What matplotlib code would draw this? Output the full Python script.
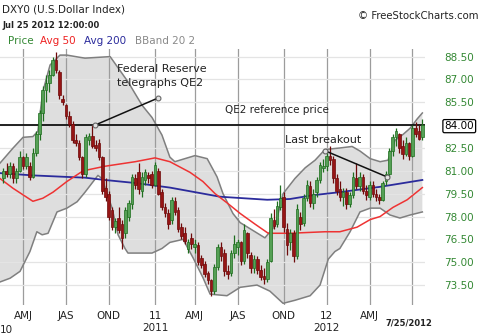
import numpy as np
import matplotlib.pyplot as plt

# weekly bars of DXY0, week 0 = Feb 15 2010 ... week 127 = Jul 23 2012
opens = [80.5, 81.0, 80.8, 81.3, 80.5, 81.0, 81.9, 81.3, 81.3, 80.6,
         82.2, 83.4, 84.8, 86.3, 86.8, 87.3, 88.3, 87.5, 85.7, 85.3,
         84.6, 84.1, 83.0, 82.8, 81.9, 80.8, 83.0, 83.3, 82.7, 82.8,
         81.9, 79.9, 79.5, 78.4, 77.3, 77.9, 77.5, 76.9, 78.0, 78.8,
         80.5, 80.9, 79.7, 80.4, 80.7, 80.8, 80.1, 81.0, 79.6, 78.6,
         78.2, 77.8, 79.0, 78.4, 77.3, 76.9, 75.9, 76.6, 76.0, 76.1,
         75.3, 74.9, 74.3, 73.8, 73.1, 74.7, 76.0, 75.6, 74.4, 74.3,
         75.6, 76.0, 76.3, 75.1, 76.9, 75.5, 74.6, 75.2, 74.5, 74.1,
         73.9, 75.1, 77.8, 77.5, 78.6, 79.3, 77.2, 76.3, 76.9, 75.4,
         78.0, 77.6, 79.2, 80.0, 78.9, 79.6, 80.4, 81.2, 81.3, 82.0,
         81.8, 80.5, 79.8, 79.3, 79.6, 78.8, 79.4, 80.5, 80.0, 80.6,
         79.7, 79.3, 80.1, 79.5, 79.3, 79.1, 80.3, 80.8, 82.3, 83.2,
         83.4, 82.6, 82.1, 82.8, 82.0, 83.8, 83.6, 83.2]
highs = [81.2, 81.5, 81.6, 81.5, 81.2, 82.3, 82.0, 82.2, 81.6, 82.5,
         83.6, 85.0, 86.6, 87.3, 87.6, 88.5, 88.8, 87.6, 86.0, 85.4,
         84.9, 84.3, 83.4, 83.0, 82.0, 83.4, 83.5, 84.0, 83.0, 83.1,
         82.0, 80.5, 79.7, 78.6, 77.9, 78.6, 77.8, 78.6, 79.1, 80.8,
         80.8, 81.5, 80.9, 81.1, 80.9, 81.0, 81.6, 81.2, 79.8, 78.9,
         78.5, 79.3, 79.3, 78.6, 77.6, 77.3, 76.5, 76.9, 76.5, 76.3,
         75.5, 75.1, 74.4, 73.9, 74.9, 76.2, 76.3, 75.9, 74.8, 75.8,
         76.8, 76.5, 76.4, 77.5, 77.0, 75.7, 75.5, 75.4, 74.8, 74.6,
         75.2, 78.2, 78.5, 79.0, 80.1, 79.6, 77.6, 77.2, 77.1, 78.8,
         78.3, 79.5, 80.4, 80.3, 79.8, 80.6, 81.6, 81.8, 82.3, 82.6,
         82.0, 80.8, 80.3, 79.9, 79.9, 79.6, 80.9, 81.5, 80.9, 80.8,
         80.1, 80.3, 80.3, 79.8, 79.5, 80.3, 81.0, 82.5, 83.4, 83.8,
         83.5, 83.0, 83.2, 82.9, 84.0, 84.2, 84.0, 84.4]
lows = [80.2, 80.6, 80.5, 80.2, 80.2, 80.9, 81.1, 81.1, 80.4, 80.5,
        82.0, 83.0, 84.3, 85.5, 86.2, 87.2, 87.4, 85.7, 85.3, 84.4,
        83.9, 82.8, 82.6, 81.7, 80.5, 80.6, 82.7, 82.5, 82.3, 81.7,
        79.5, 79.0, 77.8, 77.1, 76.9, 76.9, 75.9, 76.6, 77.7, 78.5,
        79.8, 79.5, 79.3, 80.1, 80.2, 79.9, 80.0, 79.4, 78.4, 78.0,
        77.2, 77.5, 78.1, 77.0, 76.5, 76.2, 75.6, 75.9, 75.6, 74.8,
        74.6, 74.0, 73.6, 72.8, 72.9, 74.5, 75.1, 74.1, 73.9, 74.1,
        75.3, 75.5, 74.8, 74.9, 75.3, 74.3, 74.3, 74.2, 73.8, 73.6,
        73.7, 75.0, 77.2, 77.3, 78.4, 77.0, 75.5, 75.8, 75.0, 75.2,
        77.1, 77.4, 79.0, 78.6, 78.5, 79.3, 80.2, 80.9, 81.0, 81.4,
        80.2, 79.4, 79.0, 78.7, 78.5, 78.6, 79.2, 79.8, 79.7, 79.5,
        79.1, 79.1, 79.3, 79.0, 78.8, 79.0, 80.1, 80.6, 82.0, 82.6,
        82.2, 81.8, 82.0, 81.7, 81.9, 83.2, 83.0, 83.0]
closes = [81.0, 80.8, 81.3, 80.5, 81.0, 81.9, 81.3, 81.9, 80.6, 82.2,
          83.4, 84.8, 86.3, 86.8, 87.3, 88.3, 87.6, 86.0, 85.5, 84.6,
          84.1, 83.0, 82.8, 81.9, 80.8, 83.2, 83.3, 82.6, 82.5, 81.9,
          79.7, 79.3, 78.0, 77.3, 77.7, 77.1, 76.6, 78.4, 78.9, 80.6,
          80.1, 79.8, 80.6, 80.9, 80.5, 80.1, 81.4, 79.5, 78.6, 78.2,
          77.5, 79.1, 78.3, 77.2, 76.7, 76.4, 76.3, 76.2, 76.2, 75.0,
          74.8, 74.2, 73.8, 73.1, 74.7, 76.0, 75.4, 74.4, 74.2, 75.6,
          76.2, 76.3, 75.1, 77.1, 75.6, 74.6, 75.2, 74.5, 74.0, 73.9,
          75.0, 77.9, 77.4, 78.7, 79.2, 77.3, 76.1, 76.9, 75.4, 78.5,
          77.5, 79.2, 80.1, 78.9, 79.5, 80.4, 81.4, 81.3, 82.0, 81.7,
          80.5, 79.7, 79.3, 79.6, 78.8, 79.4, 80.6, 80.0, 80.6, 79.7,
          79.4, 80.1, 79.5, 79.3, 79.1, 80.2, 80.8, 82.3, 83.2, 83.6,
          82.5, 82.1, 82.8, 82.0, 83.8, 83.4, 83.1, 84.0]

# indicator lines (week position, value)
avg50_weeks = [-1, 3, 9, 12, 15.1, 19.3, 24.2, 30.8, 40, 46, 50.5, 56.6, 60.5, 64.2,
               67.8, 71.8, 76.3, 80.3, 86.9, 97.5, 102, 107.2, 111.2, 114.2, 118.1, 122.4, 127]
avg50 = [80.5, 79.85, 79.0, 79.2, 79.6, 80.3, 81.0, 81.3, 81.6, 81.85, 81.6, 80.9, 80.3, 79.5,
         78.9, 78.2, 77.5, 76.9, 76.9, 77.0, 77.0, 77.3, 77.8, 78.0, 78.6, 79.1, 79.9]

avg200_weeks = [-1, 9, 19.3, 24.8, 30.8, 40, 50.5, 65.7, 80, 86.9, 93.9, 102, 114.2, 127]
avg200 = [80.85, 80.7, 80.6, 80.55, 80.4, 80.2, 79.9, 79.3, 79.1, 79.15, 79.4, 79.6, 79.95, 80.4]

bb_up_weeks = [-1, 3, 6, 9, 10.5, 12, 14.2, 17.2, 19.3, 23.3, 24.8, 32.4, 37.8, 42.1, 45.1,
               48.1, 50.5, 52, 58.1, 61.8, 64.8, 66.6, 69.6, 71.8, 76.3, 79.3, 82.4, 84.8,
               88.4, 91.5, 94.5, 97.5, 102, 105.7, 108.1, 111.2, 114.2, 116.6, 118.7, 121.2,
               123.3, 125.4, 127]
bb_up = [81.5, 82.5, 83.2, 83.25, 83.6, 86.2, 87.95, 88.6, 88.6, 88.45, 88.4, 88.5, 86.85, 85.3,
         84.5, 83.35, 81.9, 81.6, 82.0, 81.8, 80.6, 79.5, 78.2, 77.6, 77.0, 76.6, 77.4, 79.5,
         80.5, 81.2, 81.7, 82.4, 82.5, 82.6, 82.3, 81.8, 81.6, 81.7, 83.0, 83.4, 83.8, 84.4, 84.8]

bb_low_weeks = [-1, 2.1, 5.1, 8.1, 10.2, 11.8, 13.6, 16.3, 19.3, 22.4, 24.8, 28.7, 29.9, 33,
                34.8, 36.9, 37.8, 45.1, 48.1, 50.5, 54.5, 57.5, 60.5, 62.7, 67.8, 71.8, 76.9,
                80.8, 84.8, 88.4, 93, 96, 98.5, 100.5, 102, 105.1, 108.1, 111.2, 114.2, 117.2,
                120.2, 123.3, 127]
bb_low = [73.7, 73.95, 74.4, 75.7, 77.0, 76.8, 76.9, 78.3, 78.55, 78.97, 79.6, 80.7, 80.5, 78.55,
          76.8, 75.9, 75.6, 75.6, 75.9, 76.3, 76.5, 75.3, 74.0, 72.9, 72.8, 73.35, 73.5,
          73.1, 72.3, 72.5, 72.8, 73.5, 75.2, 75.7, 75.9, 77.0, 78.3, 78.55, 78.55, 78.1,
          77.9, 78.1, 78.3]

quarter_weeks = [6, 19, 32, 46, 58, 71, 85, 98, 111, 124]
quarter_labels = ['AMJ', 'JAS', 'OND', '11\n2011', 'AMJ', 'JAS', 'OND', '12\n2012', 'AMJ', '']
price_ticks = [73.5, 75.0, 76.5, 78.0, 79.5, 81.0, 82.5, 84.0, 85.5, 87.0, 88.5]
qe2_price = 84.0

fed_line = ([27.8, 46.8], [84.0, 85.77])
breakout_line = ([97.5, 116.2], [82.32, 80.61])

fig = plt.figure(figsize=(4.8, 3.36), dpi=100)
ax = fig.add_axes([0, 1 - 305 / 336, 425 / 480, 256 / 336])

o = np.array(opens)
h = np.array(highs)
l = np.array(lows)
c = np.array(closes)
weeks = np.arange(len(c))
up = c >= o
face = np.where(up, '#55a055', '#961515')
edge = np.where(up, '#1e6e1e', '#6e0a0a')

# bollinger band
poly_x = list(bb_up_weeks) + list(bb_low_weeks[::-1])
poly_y = list(bb_up) + list(bb_low[::-1])
ax.fill(poly_x, poly_y, color='#dedede', zorder=0.3, lw=0)
ax.plot(bb_up_weeks, bb_up, color='#7f7f7f', lw=1.1, zorder=1)
ax.plot(bb_low_weeks, bb_low, color='#7f7f7f', lw=1.1, zorder=1)

ax.plot(avg200_weeks, avg200, color='#2b2b9c', lw=1.3, zorder=2)
ax.plot(avg50_weeks, avg50, color='#ee3333', lw=1.1, zorder=2)
ax.axhline(qe2_price, color='#111111', lw=1.3, zorder=2.5)

# candles
ax.vlines(weeks, l, h, colors=edge, lw=0.9, zorder=3)
ax.bar(weeks, np.maximum(np.abs(c - o), 0.06), bottom=np.minimum(o, c), width=0.8,
       color=face, edgecolor=edge, linewidth=0.5, zorder=4)

# annotations
ax.plot(*fed_line, color='#111111', lw=1.1, zorder=6, marker='o', ms=3.5,
        mfc='#e4e4e4', mec='#666666', mew=0.8)
ax.plot(*breakout_line, color='#111111', lw=1.1, zorder=6, marker='o', ms=3.5,
        mfc='#e4e4e4', mec='#666666', mew=0.8)
ax.text(34.5, 87.23, 'Federal Reserve\ntelegraphs QE2', fontsize=8, ha='left', va='center',
        linespacing=1.45, color='#222222', zorder=7)
ax.text(67.2, 85.0, 'QE2 reference price', fontsize=7.5, ha='left', va='center',
        color='#222222', zorder=7)
ax.text(85.4, 83.03, 'Last breakout', fontsize=8, ha='left', va='center',
        color='#222222', zorder=7)

ax.set_xlim(-0.97, 127.8)
ax.set_ylim(72.19, 89.0)
for s in ax.spines.values():
    s.set_visible(False)

ax.set_xticks(quarter_weeks)
ax.set_xticklabels(quarter_labels)
ax.set_yticks(price_ticks)
ax.set_yticklabels(['%.2f' % t for t in price_ticks])
ax.yaxis.tick_right()
ax.set_axisbelow(True)
ax.grid(axis='x', color='#9c9c9c', lw=0.9)
ax.grid(axis='y', color='#e4e4e4', lw=0.9)
ax.tick_params(axis='x', length=0, pad=4, labelsize=7.5, labelcolor='#222222')
ax.tick_params(axis='y', length=0, pad=14, labelsize=7.5, labelcolor='#338833')
for lbl in ax.get_xticklabels():
    lbl.set_linespacing(1.3)
for t, lbl in zip(price_ticks, ax.get_yticklabels()):
    if t == qe2_price:
        lbl.set_color('black')
        lbl.set_bbox(dict(boxstyle='round,pad=0.15', fc='white', ec='black', lw=0.9))

# header texts
fig.text(2 / 480, 1 - 10 / 336, 'DXY0 (U.S.Dollar Index)', fontsize=7.5, ha='left', va='center',
         color='#222222')
fig.text(2 / 480, 1 - 25 / 336, 'Jul 25 2012 12:00:00', fontsize=6, weight='bold', ha='left',
         va='center', color='#222222')
fig.text(478 / 480, 1 - 16 / 336, '\u00a9 FreeStockCharts.com', fontsize=7.3, ha='right',
         va='center', color='#222222')
legend_items = [('Price', '#338833', 8), ('Avg 50', '#ee2222', 40),
                ('Avg 200', '#2b2b9c', 84), ('BBand 20 2', '#8a8a8a', 135)]
for name, col, px in legend_items:
    fig.text(px / 480, 1 - 41 / 336, name, fontsize=7.5, ha='left', va='center', color=col)

fig.text(0, 1 - 330 / 336, '10', fontsize=7.5, ha='left', va='center', color='#222222')
fig.text(409 / 480, 1 - 323 / 336, '7/25/2012', fontsize=6, weight='bold', ha='center',
         va='center', color='#222222')

fig.savefig('out.png', dpi=100)
